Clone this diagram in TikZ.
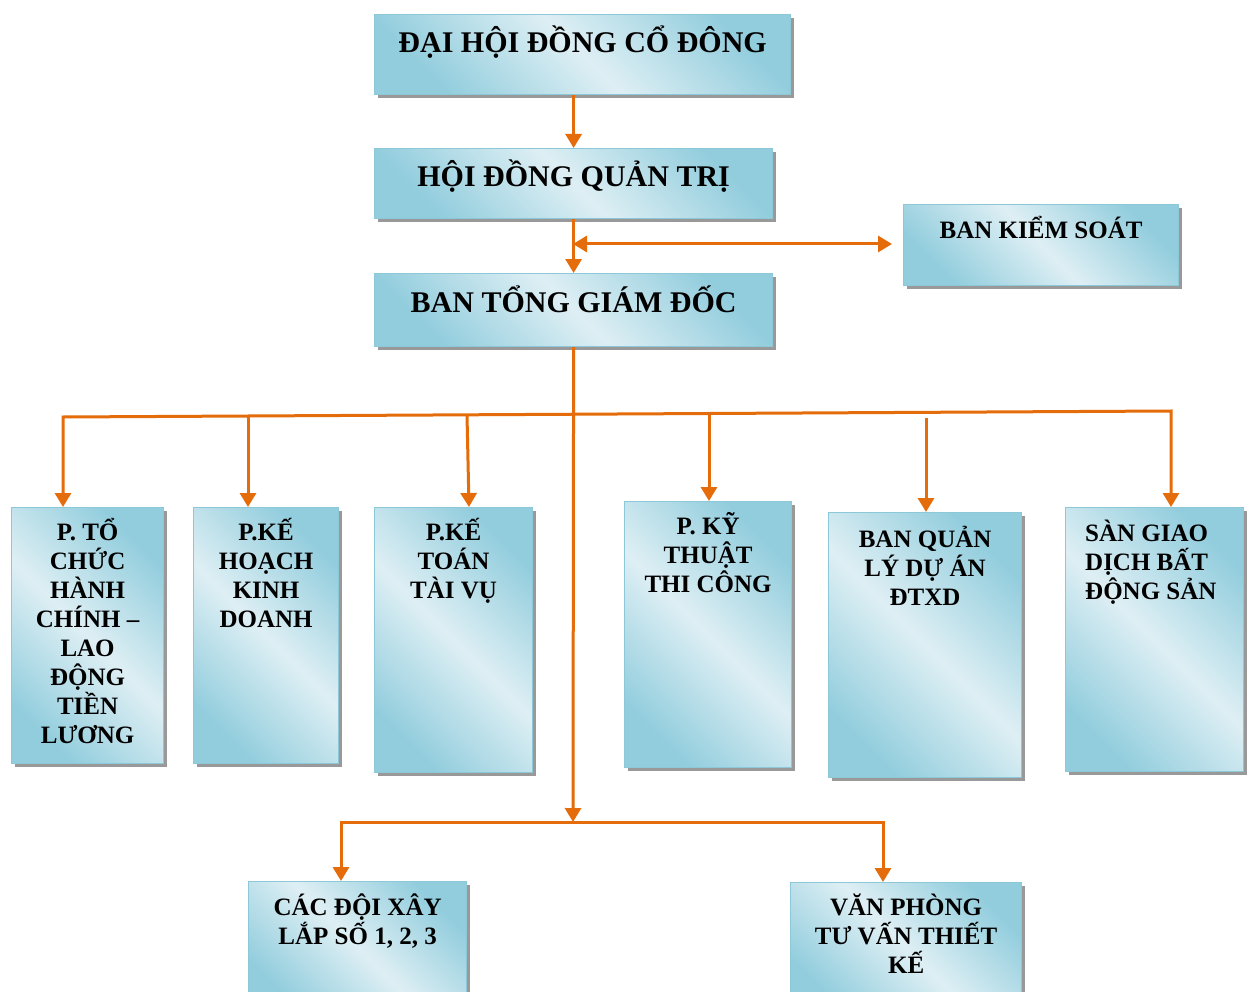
\documentclass[tikz,border=0pt]{standalone}
\usepackage{fontspec}
\setmainfont{Liberation Serif}
\usetikzlibrary{arrows.meta,shadows,calc}
\definecolor{boxdark}{RGB}{146,205,221}
\definecolor{boxlight}{RGB}{222,239,244}
\definecolor{boxline}{RGB}{140,200,216}
\definecolor{arrowc}{RGB}{228,108,10}
\tikzset{
 orgbox/.style={draw=boxline, line width=1.2pt, top color=boxdark, bottom color=boxdark, middle color=boxlight, shading angle=-45, anchor=north west, inner sep=0pt, drop shadow={shadow xshift=3.5pt, shadow yshift=-3.5pt, fill=black!40, opacity=1}},
 bigtxt/.style={font=\fontsize{30}{36}\selectfont\bfseries, inner sep=0pt, anchor=base},
 onetxt/.style={font=\fontsize{25}{29}\selectfont\bfseries, inner sep=0pt, anchor=base},
 smtxt/.style={font=\fontsize{25}{29}\selectfont\bfseries, inner sep=0pt, align=center, anchor=north},
 link/.style={draw=arrowc, line width=3pt},
 tip/.style={link, -{Triangle[width=16pt,length=14pt]}},
}
\begin{document}
\begin{tikzpicture}[x=1pt,y=-1pt]
\useasboundingbox (0,0) rectangle (1249,992);
\fill[white] (0,0) rectangle (1249,992);
% boxes
\node[orgbox, minimum width=416pt, minimum height=80pt] (b1) at (374,14) {};
\node[orgbox, minimum width=398pt, minimum height=70pt] (b2) at (374,148) {};
\node[orgbox, minimum width=275pt, minimum height=81pt] (b3) at (903,204) {};
\node[orgbox, minimum width=398pt, minimum height=73pt] (b4) at (374,273) {};
\node[orgbox, minimum width=152pt, minimum height=256pt] (b5) at (11,507) {};
\node[orgbox, minimum width=145pt, minimum height=256pt] (b6) at (193,507) {};
\node[orgbox, minimum width=158pt, minimum height=265pt] (b7) at (374,507) {};
\node[orgbox, minimum width=167pt, minimum height=266pt] (b8) at (624,501) {};
\node[orgbox, minimum width=193pt, minimum height=265pt] (b9) at (828,512) {};
\node[orgbox, minimum width=178pt, minimum height=264pt] (b10) at (1065,507) {};
\node[orgbox, minimum width=218pt, minimum height=130pt] (b11) at (248,881) {};
\node[orgbox, minimum width=231pt, minimum height=130pt] (b12) at (790,882) {};
% labels
\node[bigtxt] (t1) at ([yshift=-39pt]b1.north) {ĐẠI HỘI ĐỒNG CỔ ĐÔNG};
\node[bigtxt] (t2) at ([yshift=-39pt]b2.north) {HỘI ĐỒNG QUẢN TRỊ};
\node[onetxt] (t3) at ([yshift=-35pt]b3.north) {BAN KIỂM SOÁT};
\node[bigtxt] (t4) at ([yshift=-39pt]b4.north) {BAN TỔNG GIÁM ĐỐC};
\node[smtxt] (t5) at ([yshift=-5.5pt]b5.north) {\rule{0pt}{27.5pt}P. TỔ\\CHỨC\\HÀNH\\CHÍNH –\\LAO\\ĐỘNG\\TIỀN\\LƯƠNG};
\node[smtxt] (t6) at ([yshift=-5.5pt]b6.north) {\rule{0pt}{27.5pt}P.KẾ\\HOẠCH\\KINH\\DOANH};
\node[smtxt] (t7) at ([yshift=-5.5pt]b7.north) {\rule{0pt}{27.5pt}P.KẾ\\TOÁN\\TÀI VỤ};
\node[smtxt] (t8) at ([yshift=-5.5pt]b8.north) {\rule{0pt}{27.5pt}P. KỸ\\THUẬT\\THI CÔNG};
\node[smtxt] (t9) at ([yshift=-7.5pt]b9.north) {\rule{0pt}{27.5pt}BAN QUẢN\\LÝ DỰ ÁN\\ĐTXD};
\node[smtxt, align=left, anchor=north west] (t10) at ([xshift=20pt,yshift=-6.5pt]b10.north west) {\rule{0pt}{27.5pt}SÀN GIAO\\DỊCH BẤT\\ĐỘNG SẢN};
\node[smtxt] (t11) at ([yshift=-6.5pt]b11.north) {\rule{0pt}{27.5pt}CÁC ĐỘI XÂY\\LẮP SỐ 1, 2, 3};
\node[smtxt] (t12) at ([yshift=-5.5pt]b12.north) {\rule{0pt}{27.5pt}VĂN PHÒNG\\TƯ VẤN THIẾT\\KẾ};
% connectors
\draw[tip] (b1.south -| b2.north) -- (b2.north);
\draw[tip] (b2.south) -- (b4.north);
\coordinate (k) at (573,244);
\draw[link, {Triangle[width=16pt,length=14pt]}-{Triangle[width=16pt,length=14pt]}] (k) -- ($(k -| b3.west)+(-11,0)$);
\coordinate (j) at (573,822);
\draw[tip] (b4.south) -- (j);
\coordinate (h1) at (63,417);
\coordinate (h2) at (1171,411);
\draw[tip] ($(h1)!0.5!(h2)$) -- (h1) -- (h1 |- b5.north);
\draw[tip] ($(h1)!0.5!(h2)$) -- (h2) -- (h2 |- b10.north);
\coordinate (d6) at (248,416);
\draw[tip] (d6) -- (d6 |- b6.north);
\coordinate (d7) at (467,415);
\draw[tip] (d7) -- ($(d7 |- b7.north)+(2,0)$);
\coordinate (d8) at (709,413.5);
\draw[tip] (d8) -- (d8 |- b8.north);
\coordinate (d9) at (926,418);
\draw[tip] (d9) -- (d9 |- b9.north);
\coordinate (g1) at (341,822);
\coordinate (g2) at (883,822);
\draw[tip] (j) -- (g1) -- (g1 |- b11.north);
\draw[tip] (j) -- (g2) -- (g2 |- b12.north);
\end{tikzpicture}
\end{document}
